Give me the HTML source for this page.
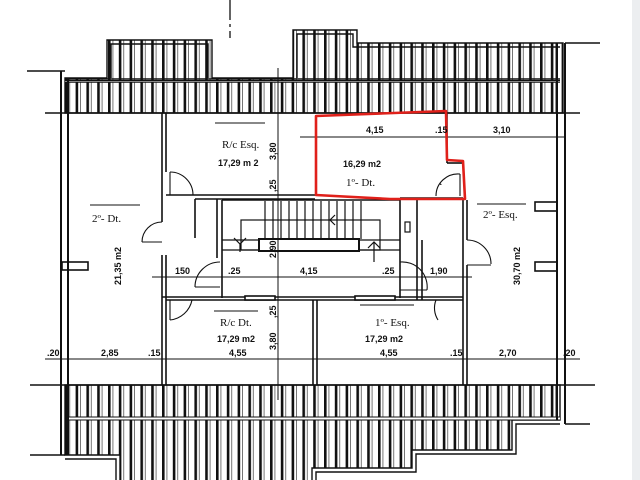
<!DOCTYPE html>
<html><head><meta charset="utf-8"><style>
html,body{margin:0;padding:0;background:#fff;}
svg{display:block}
text{font-family:"Liberation Serif",serif;fill:#111;}
.s{font-family:"Liberation Sans",sans-serif;font-weight:bold;font-size:9px;}
</style></head><body>
<svg width="640" height="480" viewBox="0 0 640 480" xmlns="http://www.w3.org/2000/svg">
<defs>
<pattern id="h" x="0" y="0" width="10.8" height="10" patternUnits="userSpaceOnUse">
<rect x="0" y="0" width="2.6" height="10" fill="#111"/>
<rect x="4.5" y="0" width="0.8" height="10" fill="#555"/>
</pattern>
</defs>
<rect x="632" y="0" width="8" height="480" fill="#eceef0"/>
<!-- top vertical dashed -->
<line x1="230" y1="0" x2="230" y2="38" stroke="#111" stroke-width="1.3" stroke-dasharray="20,4,3,4"/>

<!-- TOP BAND -->
<g stroke="#111" stroke-width="1.4" fill="none">
<polygon points="65,78 107,78 107,40 212,40 212,78 293,78 293,30 357,30 357,43 563,43 563,113 65,113" fill="url(#h)"/>
<polyline points="111,78 111,44 208,44 208,78"/>
<polyline points="297,78 297,34 353,34 353,47 560,47"/>
<line x1="65" y1="79" x2="560" y2="79"/><line x1="65" y1="82" x2="560" y2="82"/>
<line x1="45" y1="113" x2="580" y2="113"/>
<line x1="27" y1="71" x2="65" y2="71"/>
<line x1="565" y1="43" x2="600" y2="43"/>
</g>
<rect x="65" y="80" width="495" height="2" fill="#fff"/>
<line x1="65" y1="80.5" x2="560" y2="80.5" stroke="#111" stroke-width="1"/>
<line x1="65" y1="82" x2="560" y2="82" stroke="#111" stroke-width="1"/>

<!-- BOTTOM BAND -->
<g stroke="#111" stroke-width="1.4" fill="none">
<polygon points="65,385 560,385 560,420 512,420 512,450 412,450 412,468 312,468 312,482 120,482 120,455 65,455" fill="url(#h)"/>
<polyline points="560,424 516,424 516,454 416,454 416,472 316,472 316,482"/>
<polyline points="116,482 116,459 65,459"/>
<line x1="30" y1="385" x2="595" y2="385"/>
<line x1="30" y1="455" x2="65" y2="455"/>
<line x1="565" y1="424" x2="590" y2="424"/>
</g>
<rect x="67" y="417" width="493" height="3" fill="#fff"/>
<line x1="67" y1="417" x2="560" y2="417" stroke="#111" stroke-width="1"/>
<line x1="67" y1="420" x2="560" y2="420" stroke="#111" stroke-width="1"/>

<!-- OUTER WALLS -->
<g stroke="#111" stroke-width="2" fill="none">
<line x1="61" y1="71" x2="61" y2="455"/><line x1="68" y1="78" x2="68" y2="455"/>
<line x1="557" y1="43" x2="557" y2="420"/><line x1="565" y1="43" x2="565" y2="424"/>
</g>

<!-- INTERIOR WALLS -->
<g stroke="#111" stroke-width="1.6" fill="none">
<line x1="162" y1="113" x2="162" y2="195"/><line x1="166" y1="113" x2="166" y2="172"/>
<line x1="162" y1="255" x2="162" y2="385"/><line x1="166" y1="255" x2="166" y2="385"/>
<line x1="162" y1="195" x2="162" y2="222"/>
<line x1="166" y1="195" x2="315" y2="195"/><line x1="195" y1="199" x2="315" y2="199"/>
<line x1="195" y1="199" x2="195" y2="238"/>
<line x1="217" y1="199" x2="217" y2="258"/>
<line x1="222" y1="200" x2="222" y2="298"/>
<line x1="400" y1="200" x2="400" y2="298"/>
<line x1="222" y1="200" x2="400" y2="200"/>
<line x1="162" y1="297" x2="463" y2="297"/><line x1="166" y1="300" x2="463" y2="300"/>
<line x1="313" y1="300" x2="313" y2="385"/><line x1="317" y1="300" x2="317" y2="385"/>
<line x1="463" y1="200" x2="463" y2="385"/><line x1="467" y1="200" x2="467" y2="240"/>
<line x1="467" y1="265" x2="467" y2="385"/>
<line x1="417" y1="200" x2="417" y2="300"/>
<line x1="422" y1="240" x2="422" y2="300"/>
<line x1="400" y1="198" x2="463" y2="198"/>
<line x1="447" y1="113" x2="447" y2="163"/>
<line x1="447" y1="163" x2="463" y2="163"/>
<rect x="62" y="262" width="26" height="8"/>
<rect x="535" y="202" width="22" height="9"/>
<rect x="535" y="262" width="22" height="9"/>
<rect x="245" y="296" width="30" height="4" fill="#fff"/>
<rect x="355" y="296" width="40" height="4" fill="#fff"/>
</g>

<!-- STAIRS -->
<g stroke="#111" stroke-width="1.2" fill="none">
<rect x="241" y="220" width="139" height="30"/>
<line x1="222" y1="240" x2="400" y2="240"/>
<line x1="222" y1="250" x2="400" y2="250"/>
<rect x="259" y="239" width="100" height="12" fill="#fff" stroke-width="2"/>
<line x1="265" y1="201" x2="265" y2="239"/>
<line x1="273" y1="201" x2="273" y2="239"/><line x1="281" y1="201" x2="281" y2="239"/>
<line x1="289" y1="201" x2="289" y2="239"/><line x1="297" y1="201" x2="297" y2="239"/>
<line x1="305" y1="201" x2="305" y2="239"/><line x1="313" y1="201" x2="313" y2="239"/>
<line x1="321" y1="201" x2="321" y2="239"/><line x1="329" y1="201" x2="329" y2="239"/>
<line x1="337" y1="201" x2="337" y2="239"/><line x1="345" y1="201" x2="345" y2="239"/>
<line x1="353" y1="201" x2="353" y2="239"/><line x1="361" y1="201" x2="361" y2="239"/>
<polyline points="335,215 330,220 335,225"/>
<polyline points="234,238 240,244 246,238"/><line x1="240" y1="244" x2="240" y2="252"/>
<polyline points="368,248 374,242 380,248"/><line x1="374" y1="242" x2="374" y2="262"/>
<rect x="405" y="222" width="5" height="10"/>
</g>

<!-- DOORS -->
<g stroke="#111" stroke-width="1.1" fill="none">
<path d="M170,172 A23,23 0 0 1 193,195"/><line x1="170" y1="172" x2="170" y2="195"/>
<path d="M162,222 A20,20 0 0 0 142,242"/><line x1="142" y1="242" x2="162" y2="242"/>
<path d="M220,262 A25,25 0 0 0 195,287"/><line x1="195" y1="287" x2="220" y2="287"/>
<path d="M170,320 A25,25 0 0 0 192,300"/><line x1="170" y1="300" x2="170" y2="320"/>
<path d="M400,262 A25,25 0 0 1 427,290"/><line x1="400" y1="290" x2="427" y2="290"/>
<path d="M438,320 A22,22 0 0 1 436,300"/>
<path d="M460,174 A22,22 0 0 0 436,196"/><line x1="460" y1="174" x2="460" y2="196"/>
<path d="M467,240 A24,24 0 0 1 491,264"/><line x1="467" y1="265" x2="491" y2="265"/>
<path d="M440,184 A1,1 0 0 1 441,185"/>
</g>

<!-- DIMENSION LINES -->
<g stroke="#111" stroke-width="1" fill="none">
<line x1="278" y1="68" x2="278" y2="400"/>
<line x1="300" y1="137" x2="566" y2="137"/>
<line x1="152" y1="277" x2="472" y2="277"/>
<line x1="45" y1="359" x2="580" y2="359"/>
<line x1="215" y1="123" x2="265" y2="123"/>
<line x1="90" y1="205" x2="140" y2="205"/>
<line x1="477" y1="204" x2="526" y2="204"/>
<line x1="214" y1="311" x2="258" y2="311"/>
<line x1="360" y1="305" x2="414" y2="305"/>
</g>

<!-- RED OUTLINE -->
<path d="M316,116 L446,111 L447,160 L463,161 L465,199 L390,199 L316,195 Z" fill="none" stroke="#e0201a" stroke-width="2.6" stroke-linejoin="round"/>

<!-- LABELS -->
<g>
<text x="222" y="148" font-size="11">R/c Esq.</text>
<text x="218" y="166" class="s">17,29 m 2</text>
<text x="343" y="167" class="s">16,29 m2</text>
<text x="346" y="186" font-size="11">1º- Dt.</text>
<text x="92" y="222" font-size="11">2º- Dt.</text>
<text x="483" y="218" font-size="11">2º- Esq.</text>
<text x="220" y="326" font-size="11">R/c Dt.</text>
<text x="217" y="342" class="s">17,29 m2</text>
<text x="375" y="326" font-size="11">1º- Esq.</text>
<text x="365" y="342" class="s">17,29 m2</text>
<text class="s" transform="translate(121,285) rotate(-90)">21,35 m2</text>
<text class="s" transform="translate(520,285) rotate(-90)">30,70 m2</text>
<text class="s" transform="translate(276,160) rotate(-90)">3,80</text>
<text class="s" transform="translate(276,192) rotate(-90)">,25</text>
<text class="s" transform="translate(276,258) rotate(-90)">2,90</text>
<text class="s" transform="translate(276,318) rotate(-90)">,25</text>
<text class="s" transform="translate(276,350) rotate(-90)">3,80</text>
<text class="s" x="366" y="133">4,15</text>
<text class="s" x="435" y="133">.15</text>
<text class="s" x="493" y="133">3,10</text>
<text class="s" x="175" y="274">150</text>
<text class="s" x="228" y="274">.25</text>
<text class="s" x="300" y="274">4,15</text>
<text class="s" x="382" y="274">.25</text>
<text class="s" x="430" y="274">1,90</text>
<text class="s" x="47" y="356">.20</text>
<text class="s" x="101" y="356">2,85</text>
<text class="s" x="148" y="356">.15</text>
<text class="s" x="229" y="356">4,55</text>
<text class="s" x="380" y="356">4,55</text>
<text class="s" x="450" y="356">.15</text>
<text class="s" x="499" y="356">2,70</text>
<text class="s" x="563" y="356">.20</text>
</g>
</svg>
</body></html>
